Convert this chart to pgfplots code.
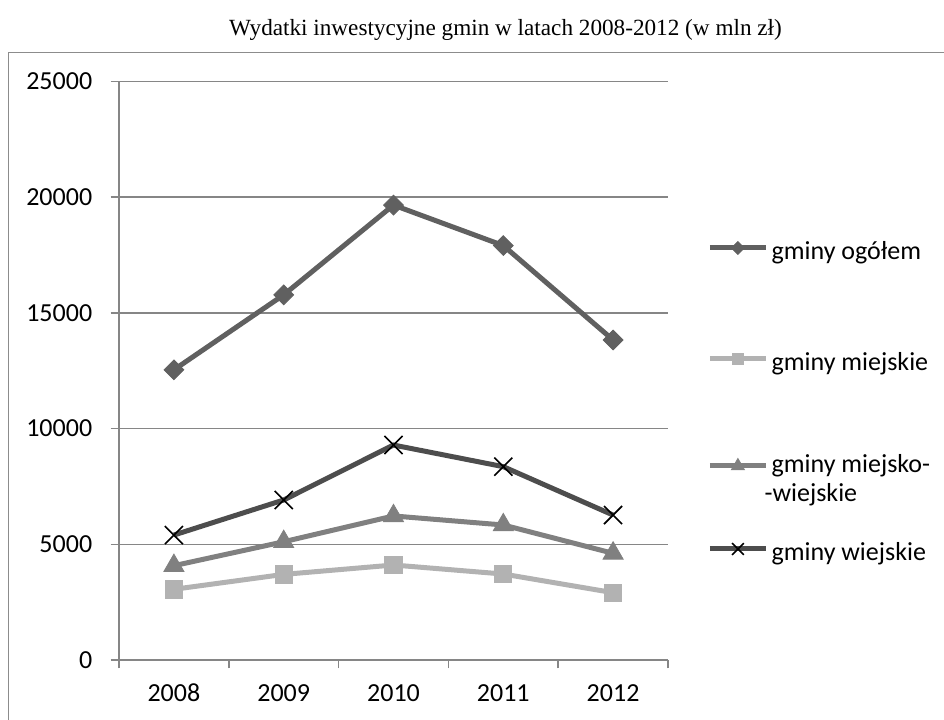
\documentclass[border=0pt]{standalone}
\usepackage{fontspec}
\setmainfont{Carlito}
\newfontfamily\timesfont{Liberation Serif}
\usepackage{pgfplots}
\pgfplotsset{compat=1.18}
\definecolor{cOg}{HTML}{606060}
\definecolor{cMi}{HTML}{B2B2B2}
\definecolor{cMw}{HTML}{808080}
\definecolor{cWi}{HTML}{4D4D4D}
\definecolor{axgray}{HTML}{868686}
\definecolor{frgray}{HTML}{8C8C8C}
\pgfplotsset{
  sOg/.style={cOg, line width=2.5pt, mark=square*, mark size=3.5pt,
    mark options={rotate=45, fill=cOg, draw=cOg, line width=0.4pt}},
  sMi/.style={cMi, line width=2.5pt, mark=square*, mark size=4.3pt,
    mark options={fill=cMi, draw=cMi, line width=0.4pt}},
  sMw/.style={cMw, line width=2.5pt, mark=triangle*, mark size=5.8pt,
    mark options={fill=cMw, draw=cMw, line width=0.4pt}},
  sWi/.style={cWi, line width=2.5pt, mark=x, mark size=6.4pt,
    mark options={draw=black, line width=0.8pt}},
  legax/.style={hide axis, scale only axis, width=1pt, height=1pt,
    xmin=0, xmax=1, ymin=0, ymax=1, anchor=south west,
    legend style={at={(0,0)}, anchor=west, draw=none, fill=none,
      inner sep=0pt, outer sep=0pt, column sep=1.6pt,
      nodes={inner sep=0pt, font=\fontsize{13}{14.5}\selectfont}},
    legend cell align=left,
    legend image code/.code={\draw[##1, every mark/.append style={scale=0.65}, mark repeat=2, mark phase=2] plot coordinates {(0pt,1.5pt) (14pt,1.5pt) (28pt,1.5pt)};}},
}
\begin{document}
\begin{tikzpicture}
\useasboundingbox (0,0) rectangle (472pt,359.5pt);
\draw[frgray, line width=0.6pt] (4.2pt,-2pt) -- (4.2pt,333.2pt) -- (475pt,333.2pt);
\node[font=\timesfont\fontsize{11.6}{14}\selectfont, anchor=base, inner sep=0pt] at (252.75pt,341.5pt) {Wydatki inwestycyjne gmin w latach 2008-2012 (w mln zł)};
\begin{axis}[
  at={(59.5pt,29.5pt)}, anchor=south west,
  scale only axis, width=274.5pt, height=289.25pt,
  xmin=-0.5, xmax=4.5, ymin=0, ymax=25000,
  clip=false,
  axis lines=left, axis line style={-, draw=axgray, line width=1.1pt},
  tick align=outside,
  xtick={0,1,2,3,4}, xticklabels={2008,2009,2010,2011,2012},
  minor xtick={-0.5,0.5,1.5,2.5,3.5,4.5},
  ytick={0,5000,10000,15000,20000,25000},
  scaled y ticks=false,
  major tick length=4.2pt, minor tick length=4.2pt,
  major x tick style={draw=none},
  minor x tick style={draw=axgray, line width=0.75pt},
  ytick style={draw=axgray, line width=0.75pt},
  ymajorgrids, grid style={draw=axgray, line width=0.75pt},
  /pgf/number format/1000 sep={},
  /pgf/number format/assume math mode=true,
  ticklabel style={font=\fontsize{13}{15}\selectfont},
  yticklabel style={anchor=east, inner sep=0pt, xshift=-9pt},
  xticklabel style={anchor=base, inner sep=0pt, yshift=-16.5pt},
]
\addplot[sOg] coordinates {(0,12540) (1,15780) (2,19660) (3,17910) (4,13830)};
\addplot[sMi] coordinates {(0,3055) (1,3700) (2,4105) (3,3715) (4,2910)};
\addplot[sMw] coordinates {(0,4075) (1,5110) (2,6225) (3,5835) (4,4610)};
\addplot[sWi] coordinates {(0,5400) (1,6915) (2,9290) (3,8355) (4,6265)};
\end{axis}
\begin{axis}[legax, at={(353.7pt,234pt)}]
\addlegendimage{sOg}
\addlegendentry{\rule[-10pt]{0pt}{20pt}gminy ogółem}
\end{axis}
\begin{axis}[legax, at={(353.7pt,178.5pt)}]
\addlegendimage{sMi}
\addlegendentry{\rule[-10pt]{0pt}{20pt}gminy miejskie}
\end{axis}
\begin{axis}[legax, at={(353.7pt,125pt)}]
\addlegendimage{sMw}
\addlegendentry{\rule[-20pt]{0pt}{40pt}\raisebox{7.5pt}{\vtop{\hbox{gminy miejsko-}\hbox{\kern-3.5pt-wiejskie}}}}
\end{axis}
\begin{axis}[legax, at={(353.7pt,83.5pt)}]
\addlegendimage{sWi}
\addlegendentry{\rule[-10pt]{0pt}{20pt}gminy wiejskie}
\end{axis}
\end{tikzpicture}
\end{document}
